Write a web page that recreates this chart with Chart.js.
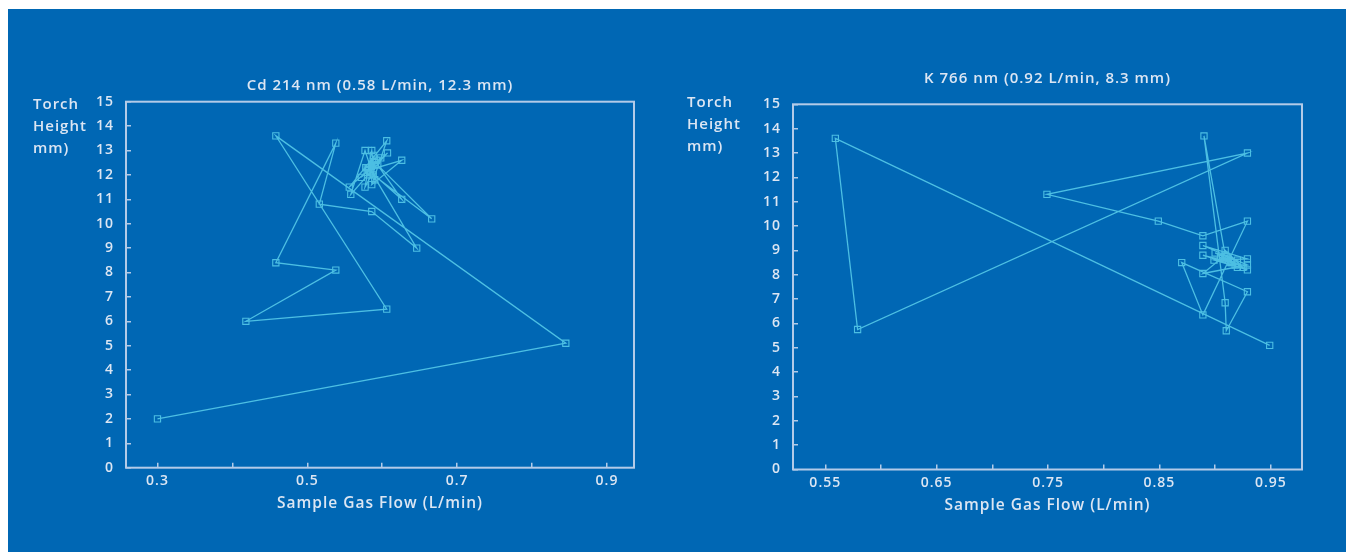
<!DOCTYPE html>
<html>
<head>
<meta charset="utf-8">
<title>Torch height vs sample gas flow</title>
<script src="https://cdn.jsdelivr.net/npm/chart.js@4.4.1/dist/chart.umd.min.js"></script>
<style>
  html, body { margin: 0; padding: 0; background: #ffffff; width: 1346px; height: 552px; overflow: hidden; }
  #panel { position: absolute; left: 8px; top: 9px; right: 0; bottom: 0; background: #0067b4; }
  .box { position: absolute; top: 0; height: 552px; }
  #left { left: 0; width: 670px; }
  #right { left: 670px; width: 676px; }
</style>
</head>
<body>
<div id="panel"></div>
<div class="box" id="left"><canvas id="cdChart"></canvas></div>
<div class="box" id="right"><canvas id="kChart"></canvas></div>
<script>
// Titles and axis captions
const cdTitle = 'Cd 214 nm (0.58 L/min, 12.3 mm)';
const kTitle = 'K 766 nm (0.92 L/min, 8.3 mm)';
const flowAxisTitle = 'Sample Gas Flow (L/min)';
const heightAxisTitle = ['Torch', 'Height', 'mm)'];

// Tick positions and the ones that carry a label
const heightTicks = [0, 1, 2, 3, 4, 5, 6, 7, 8, 9, 10, 11, 12, 13, 14, 15];
const cdFlowTicks = [0.3, 0.4, 0.5, 0.6, 0.7, 0.8, 0.9];
const cdFlowLabels = [0.3, 0.5, 0.7, 0.9];
const kFlowTicks = [0.55, 0.6, 0.65, 0.7, 0.75, 0.8, 0.85, 0.9, 0.95];
const kFlowLabels = [0.55, 0.65, 0.75, 0.85, 0.95];

// Cd 214 nm optimisation path (sample gas flow L/min, torch height mm)
const cdFlow = [0.300, 0.845, 0.458, 0.606, 0.418, 0.538, 0.458, 0.538, 0.516, 0.586,
                0.646, 0.588, 0.666, 0.594, 0.626, 0.582, 0.626, 0.586, 0.606, 0.556,
                0.607, 0.558, 0.577, 0.590, 0.586, 0.577, 0.598, 0.572, 0.592, 0.580,
                0.588, 0.583, 0.590, 0.578, 0.586, 0.582, 0.580];
const cdHeight = [2.0, 5.1, 13.6, 6.5, 6.0, 8.1, 8.4, 13.3, 10.8, 10.5,
                  9.0, 12.0, 10.2, 12.4, 11.0, 12.2, 12.6, 11.6, 13.4, 11.5,
                  12.9, 11.2, 13.0, 11.8, 13.0, 11.5, 12.7, 11.9, 12.6, 12.1,
                  12.8, 12.0, 12.5, 12.3, 12.4, 12.3, 12.3];

// K 766 nm optimisation path
const kFlow = [0.949, 0.559, 0.579, 0.929, 0.749, 0.849, 0.889, 0.929, 0.889, 0.870,
               0.929, 0.910, 0.909, 0.890, 0.909, 0.889, 0.929, 0.889, 0.929, 0.899,
               0.929, 0.889, 0.914, 0.909, 0.925, 0.900, 0.920, 0.905, 0.918, 0.910,
               0.915, 0.912, 0.920];
const kHeight = [5.1, 13.6, 5.75, 13.0, 11.3, 10.2, 9.6, 10.2, 6.35, 8.5,
                 7.3, 5.7, 6.85, 13.7, 8.8, 8.05, 8.4, 9.2, 8.65, 8.6,
                 8.2, 8.8, 8.5, 9.0, 8.3, 8.9, 8.6, 8.7, 8.4, 8.75,
                 8.5, 8.6, 8.3];

const TEXT = '#dce6f3';
const FRAME = '#b3cbe8';
const TRACE = '#4cbfe3';
const FONT = "'Open Sans', 'DejaVu Sans', sans-serif";

// Letter spacing for all canvas text (reset whenever the canvas is resized)
const spacingPlugin = {
  id: 'spacing',
  beforeUpdate(chart) { chart.ctx.letterSpacing = '1px'; },
  beforeDraw(chart) { chart.ctx.letterSpacing = '1px'; }
};

// Box round the plotting area
const framePlugin = {
  id: 'frame',
  beforeDatasetsDraw(chart) {
    const { ctx, chartArea: a } = chart;
    ctx.save();
    ctx.strokeStyle = FRAME;
    ctx.lineWidth = 2;
    ctx.strokeRect(a.left, a.top, a.right - a.left, a.bottom - a.top);
    ctx.restore();
  }
};

// Horizontal, stacked caption for the height axis
const captionPlugin = {
  id: 'caption',
  afterDraw(chart, args, opts) {
    const ctx = chart.ctx;
    ctx.save();
    ctx.letterSpacing = '1px';
    ctx.fillStyle = TEXT;
    ctx.font = '600 15px ' + FONT;
    ctx.textAlign = 'left';
    ctx.textBaseline = 'middle';
    opts.lines.forEach((t, i) => ctx.fillText(t, opts.x, opts.y + i * 22));
    ctx.restore();
  }
};

function hasLabel(list, v) {
  return list.some(l => Math.abs(l - v) < 1e-9);
}

function makeChart(id, cfg) {
  const points = cfg.flow.map((f, i) => ({ x: f, y: cfg.height[i] }));
  return new Chart(document.getElementById(id), {
    type: 'scatter',
    data: {
      datasets: [{
        data: points,
        showLine: true,
        borderColor: TRACE,
        borderWidth: 1.3,
        pointStyle: 'rect',
        pointRadius: 4.4,
        pointBorderWidth: 1.1,
        pointBorderColor: TRACE,
        pointBackgroundColor: 'rgba(0,0,0,0)',
        tension: 0
      }]
    },
    options: {
      responsive: true,
      maintainAspectRatio: false,
      animation: false,
      events: [],
      layout: { padding: { top: cfg.padTop, right: cfg.padRight, left: 0, bottom: cfg.padBottom } },
      plugins: {
        legend: { display: false },
        tooltip: { enabled: false },
        title: {
          display: true,
          text: cfg.title,
          color: TEXT,
          fullSize: false,
          font: { family: FONT, size: 15, weight: '600', lineHeight: 1.2 },
          padding: { top: cfg.titleTop, bottom: cfg.titleBottom }
        },
        caption: { lines: heightAxisTitle, x: cfg.capX, y: cfg.capY }
      },
      scales: {
        x: {
          type: 'linear',
          position: 'bottom',
          min: cfg.xMin,
          max: cfg.xMax,
          afterBuildTicks: s => { s.ticks = cfg.xTicks.map(v => ({ value: v })); },
          afterFit: s => { s.height = cfg.xHeight; },
          grid: { display: true, drawOnChartArea: false, drawTicks: true, tickLength: -5, color: FRAME, lineWidth: 1.5 },
          border: { display: false },
          ticks: {
            padding: 10,
            color: TEXT,
            autoSkip: false,
            maxRotation: 0,
            font: { family: FONT, size: 14, weight: '600' },
            callback: v => hasLabel(cfg.xLabels, v) ? String(v) : ''
          },
          title: {
            display: true,
            text: flowAxisTitle,
            color: TEXT,
            font: { family: FONT, size: 15.5, weight: '600' },
            padding: { top: 0, bottom: 0 }
          }
        },
        y: {
          type: 'linear',
          position: 'left',
          min: 0,
          max: 15,
          afterBuildTicks: s => { s.ticks = heightTicks.map(v => ({ value: v })); },
          afterFit: s => { s.width = cfg.yWidth; },
          grid: { display: true, drawOnChartArea: false, drawTicks: true, tickLength: -5, color: FRAME, lineWidth: 1.5 },
          border: { display: false },
          ticks: {
            padding: 17,
            color: TEXT,
            autoSkip: false,
            font: { family: FONT, size: 14, weight: '600' }
          }
        }
      }
    },
    plugins: [spacingPlugin, framePlugin, captionPlugin]
  });
}

makeChart('cdChart', {
  flow: cdFlow, height: cdHeight, title: cdTitle,
  xMin: 0.258, xMax: 0.936, xTicks: cdFlowTicks, xLabels: cdFlowLabels,
  padTop: 70, titleTop: 7.0, titleBottom: 6.7, padRight: 36, padBottom: 39.5,
  xHeight: 44.8, yWidth: 126, capX: 33, capY: 105
});

makeChart('kChart', {
  flow: kFlow, height: kHeight, title: kTitle,
  xMin: 0.521, xMax: 0.978, xTicks: kFlowTicks, xLabels: kFlowLabels,
  padTop: 63, titleTop: 7.0, titleBottom: 16.3, padRight: 44, padBottom: 37,
  xHeight: 45.5, yWidth: 123, capX: 17, capY: 103
});
</script>
</body>
</html>
